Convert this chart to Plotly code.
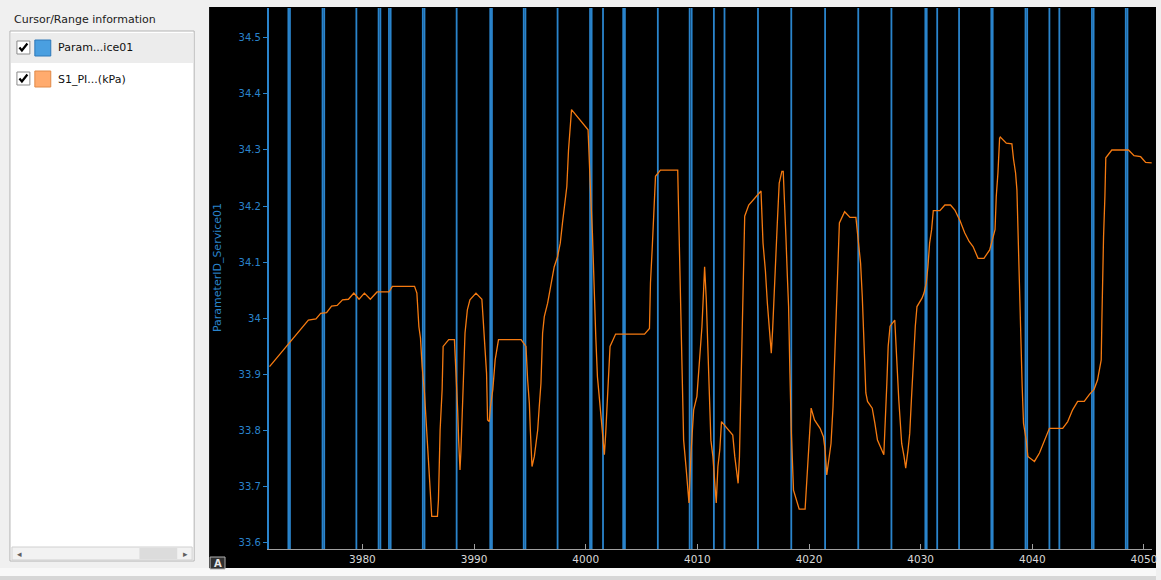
import plotly.graph_objects as go

# ---------------- data ----------------
orange_x = [3971.68, 3975.16, 3975.84, 3976.26, 3976.79, 3977.24, 3977.74, 3978.22, 3978.75, 3979.23,
            3979.70, 3980.18, 3980.71, 3981.31, 3982.38, 3982.68, 3984.67, 3984.88, 3985.06, 3985.20,
            3985.35, 3985.56, 3985.71, 3985.92, 3986.10, 3986.21, 3986.72, 3986.81, 3986.96, 3987.14,
            3987.23, 3987.73, 3988.24, 3988.32, 3988.44, 3988.53, 3988.62, 3988.74, 3988.83, 3988.98,
            3989.19, 3989.40, 3989.63, 3990.17, 3990.70, 3990.82, 3991.00, 3991.12, 3991.21, 3991.36,
            3991.47, 3991.68, 3991.89, 3992.07, 3992.19, 3994.21, 3994.65, 3994.80, 3994.95, 3995.04,
            3995.19, 3995.40, 3995.70, 3995.84, 3995.99, 3996.14, 3996.29, 3996.59, 3996.88, 3997.18,
            3997.48, 3997.72, 3997.92, 3998.13, 3998.31, 3998.46, 3998.61, 3998.73, 4000.21, 4000.30,
            4000.45, 4000.60, 4000.69, 4000.75, 4000.90, 4001.05, 4001.23, 4001.40, 4001.58, 4001.67,
            4001.79, 4002.00, 4002.18, 4002.68, 4005.27, 4005.71, 4005.80, 4005.95, 4006.10, 4006.25,
            4006.69, 4008.24, 4008.33, 4008.42, 4008.54, 4008.63, 4008.77, 4008.98, 4009.16, 4009.25,
            4009.43, 4009.67, 4009.96, 4010.20, 4010.41, 4010.56, 4010.65, 4010.80, 4010.92, 4011.06,
            4011.21, 4011.39, 4011.57, 4011.69, 4011.84, 4012.01, 4012.16, 4012.67, 4013.17, 4013.35,
            4013.56, 4013.65, 4013.77, 4013.86, 4013.95, 4014.07, 4014.15, 4014.24, 4014.60, 4015.34,
            4015.70, 4015.88, 4016.09, 4016.27, 4016.47, 4016.62, 4016.74, 4016.89, 4017.04, 4017.16,
            4017.33, 4017.57, 4017.69, 4017.81, 4017.93, 4018.05, 4018.17, 4018.29, 4018.41, 4018.61,
            4018.91, 4019.12, 4019.65, 4019.74, 4019.86, 4020.01, 4020.19, 4020.49, 4020.99, 4021.29,
            4021.44, 4021.59, 4021.73, 4021.97, 4022.15, 4022.27, 4022.39, 4022.51, 4022.63, 4022.72,
            4023.19, 4023.67, 4024.20, 4024.41, 4024.62, 4024.77, 4024.92, 4025.09, 4025.24, 4025.66,
            4025.90, 4026.13, 4026.70, 4026.79, 4026.97, 4027.09, 4027.26, 4027.68, 4027.77, 4027.92,
            4028.04, 4028.15, 4028.30, 4028.51, 4028.66, 4028.87, 4029.02, 4029.17, 4029.40, 4029.52,
            4029.67, 4030.12, 4030.30, 4030.50, 4030.65, 4030.80, 4030.98, 4031.13, 4031.72, 4032.17,
            4032.67, 4033.06, 4033.50, 4033.95, 4034.34, 4034.69, 4035.14, 4035.67, 4036.18, 4036.48,
            4036.66, 4036.77, 4036.92, 4037.07, 4037.13, 4037.67, 4038.17, 4038.32, 4038.50, 4038.62,
            4038.74, 4038.86, 4038.97, 4039.09, 4039.21, 4039.45, 4039.60, 4040.19, 4040.64, 4041.08,
            4041.53, 4042.12, 4042.72, 4043.17, 4043.61, 4044.06, 4044.65, 4045.10, 4045.54, 4045.84,
            4046.05, 4046.17, 4046.23, 4046.29, 4046.38, 4046.50, 4046.58, 4047.12, 4048.61, 4049.11,
            4049.70, 4050.15, 4050.69]
orange_y = [33.914, 33.997, 33.999, 34.009, 34.010, 34.022, 34.023, 34.033, 34.034, 34.045,
            34.034, 34.045, 34.034, 34.047, 34.047, 34.057, 34.057, 34.045, 33.985, 33.965,
            33.914, 33.867, 33.816, 33.742, 33.665, 33.647, 33.647, 33.676, 33.801, 33.873,
            33.950, 33.962, 33.962, 33.932, 33.885, 33.837, 33.783, 33.730, 33.766, 33.855,
            33.974, 34.015, 34.033, 34.045, 34.034, 33.997, 33.950, 33.902, 33.819, 33.816,
            33.843, 33.873, 33.926, 33.944, 33.962, 33.962, 33.950, 33.890, 33.849, 33.801,
            33.736, 33.754, 33.801, 33.843, 33.884, 33.974, 34.003, 34.027, 34.063, 34.092,
            34.110, 34.134, 34.170, 34.205, 34.235, 34.300, 34.348, 34.372, 34.336, 34.277,
            34.217, 34.152, 34.092, 34.033, 33.968, 33.896, 33.861, 33.819, 33.778, 33.757,
            33.795, 33.873, 33.950, 33.972, 33.972, 33.982, 34.063, 34.122, 34.182, 34.253,
            34.264, 34.264, 34.182, 34.086, 33.979, 33.884, 33.783, 33.736, 33.694, 33.671,
            33.760, 33.837, 33.861, 33.920, 33.985, 34.051, 34.092, 34.033, 33.968, 33.873,
            33.783, 33.754, 33.694, 33.671, 33.736, 33.766, 33.816, 33.804, 33.792, 33.754,
            33.724, 33.706, 33.754, 33.849, 33.938, 34.033, 34.128, 34.182, 34.202, 34.220,
            34.227, 34.134, 34.086, 34.027, 33.979, 33.938, 33.979, 34.039, 34.098, 34.170,
            34.241, 34.262, 34.262, 34.211, 34.146, 34.080, 34.021, 33.902, 33.801, 33.694,
            33.676, 33.660, 33.660, 33.694, 33.736, 33.772, 33.840, 33.819, 33.804, 33.789,
            33.766, 33.721, 33.742, 33.777, 33.843, 33.920, 33.997, 34.075, 34.128, 34.170,
            34.190, 34.180, 34.180, 34.140, 34.098, 34.039, 33.950, 33.867, 33.852, 33.840,
            33.813, 33.783, 33.757, 33.813, 33.884, 33.950, 33.986, 33.997, 33.950, 33.902,
            33.855, 33.813, 33.777, 33.754, 33.733, 33.766, 33.795, 33.855, 33.944, 33.986,
            34.021, 34.036, 34.045, 34.063, 34.092, 34.134, 34.158, 34.192, 34.192, 34.202,
            34.202, 34.193, 34.175, 34.152, 34.137, 34.128, 34.107, 34.107, 34.122, 34.146,
            34.158, 34.217, 34.259, 34.321, 34.323, 34.312, 34.311, 34.283, 34.259, 34.229,
            34.128, 34.051, 33.962, 33.879, 33.813, 33.783, 33.754, 33.745, 33.760, 33.781,
            33.804, 33.804, 33.804, 33.816, 33.837, 33.852, 33.852, 33.864, 33.874, 33.890,
            33.914, 33.926, 33.997, 34.069, 34.146, 34.217, 34.286, 34.300, 34.300, 34.290,
            34.288, 34.278, 34.277]

# transition times of the blue (ParameterID_Service01) signal
blue_x = [3973.37, 3973.51, 3976.43, 3976.58, 3979.46, 3981.45, 3981.61, 3982.38, 3982.53,
          3985.41, 3985.56, 3988.44, 3991.45, 3991.60, 3994.45, 3994.60, 3997.48, 4000.39,
          4000.53, 4001.55, 4003.36, 4003.51, 4006.46, 4009.31, 4009.49, 4011.48, 4012.43,
          4015.43, 4018.41, 4021.44, 4024.41, 4027.38, 4030.42, 4030.54, 4031.48, 4033.44,
          4036.33, 4036.45, 4039.39, 4039.54, 4041.53, 4042.42, 4045.34, 4045.49, 4048.37,
          4048.52]

x_ticks = [3980, 3990, 4000, 4010, 4020, 4030, 4040, 4050]
y_ticks = [33.6, 33.7, 33.8, 33.9, 34.0, 34.1, 34.2, 34.3, 34.4, 34.5]
y_tick_text = ["33.6", "33.7", "33.8", "33.9", "34", "34.1", "34.2", "34.3", "34.4", "34.5"]

x_range = [3971.62, 4050.72]
y_range = [33.589, 34.553]

y_title = "ParameterID_Service01"
panel_title = "Cursor/Range information"
legend_names = ["Param...ice01", "S1_PI...(kPa)"]

# ---------------- figure ----------------
W, H = 1161, 580
def px(x): return x / W
def py(y): return 1 - y / H

BLUE = "#2a84cc"
ORANGE = "#f57a10"

bx, by = [], []
for t in blue_x:
    bx += [t, t, None]
    by += [y_range[0], y_range[1], None]

fig = go.Figure()
fig.add_trace(go.Scatter(x=bx, y=by, mode="lines", line=dict(color=BLUE, width=1.8),
                         hoverinfo="skip", showlegend=False))
fig.add_trace(go.Scatter(x=orange_x, y=orange_y, mode="lines",
                         line=dict(color=ORANGE, width=1.3), showlegend=False))

shapes = []
def rect(x0, y0, x1, y1, fill, line=None, lw=1, layer="below"):
    shapes.append(dict(type="rect", xref="paper", yref="paper", x0=px(x0), x1=px(x1),
                       y0=py(y1), y1=py(y0), fillcolor=fill,
                       line=dict(color=line if line else fill, width=lw if line else 0),
                       layer=layer))

def check(x0, y0):
    pts = [(x0 + 2.5, y0 + 6.5), (x0 + 5, y0 + 9.5), (x0 + 10.5, y0 + 2.5)]
    path = "M " + " L ".join(f"{px(a):.5f},{py(b):.5f}" for a, b in pts)
    shapes.append(dict(type="path", xref="paper", yref="paper", path=path,
                       line=dict(color="#000000", width=2.2), layer="above"))

# bottom strip
rect(0, 568, 1161, 580, "#f8f8f8")
rect(0, 576, 1161, 580, "#d6d6d6")
# black chart panel
rect(210, 7, 1161, 568, "#000000")
# left list box
rect(10, 31, 195, 561, "#ffffff", "#b4b4b4", 1)
rect(11, 33, 194, 63, "#ececec")
# checkboxes
rect(17, 41, 30, 54, "#ffffff", "#8c8c8c", 1)
rect(17, 72, 30, 85, "#ffffff", "#8c8c8c", 1)
check(17, 41)
check(17, 72)
# colour squares
shapes.append(dict(type="rect", xref="paper", yref="paper", x0=px(35), x1=px(51), y0=py(56), y1=py(40),
                   fillcolor="#4a9fe0", line=dict(color="#2e78b8", width=1), layer="below"))
shapes.append(dict(type="rect", xref="paper", yref="paper", x0=px(35), x1=px(51), y0=py(87), y1=py(71),
                   fillcolor="#ffab6e", line=dict(color="#e08a48", width=1), layer="below"))
# scrollbar
rect(12, 547, 193, 560, "#f2f2f2", "#d0d0d0", 1)
rect(140, 548, 178, 559, "#dcdcdc")
# "A" icon
rect(211, 557, 226, 569, "#303030", "#b0b0b0", 1, layer="above")

def ann(text, x, y, size, color, xanchor="center", **kw):
    return dict(text=text, x=px(x), y=py(y), xref="paper", yref="paper", xanchor=xanchor,
                yanchor="middle", showarrow=False,
                font=dict(family="DejaVu Sans", size=size, color=color), **kw)

annotations = [
    ann(panel_title, 12, 20, 11, "#202020", xanchor="left"),
    ann(legend_names[0], 56, 48, 11, "#101010", xanchor="left"),
    ann(legend_names[1], 56, 79, 11, "#101010", xanchor="left"),
    ann("◂", 20, 553.5, 9, "#606060"),
    ann("▸", 186, 553.5, 9, "#606060"),
    ann("<b>A</b>", 218.5, 563, 10, "#e8e8e8"),
    ann(y_title, 218, 268, 11, BLUE, textangle=-90),
]

fig.update_layout(
    width=W, height=H,
    margin=dict(l=0, r=0, t=0, b=0),
    paper_bgcolor="#f0f0f0",
    plot_bgcolor="#000000",
    shapes=shapes,
    annotations=annotations,
    showlegend=False,
    xaxis=dict(domain=[px(270), px(1157)], range=x_range, tickvals=x_ticks,
               ticks="inside", ticklen=5, tickcolor="#a0a0a0", showgrid=False, zeroline=False,
               showline=True, linecolor="#a0a0a0", linewidth=1, ticklabeloverflow="allow",
               tickfont=dict(family="DejaVu Sans", size=10.5, color="#d8d8d8"), anchor="y"),
    yaxis=dict(domain=[py(549), py(8)], range=y_range, tickvals=y_ticks, ticktext=y_tick_text,
               ticks="outside", ticklen=4, tickcolor=BLUE, showgrid=False, zeroline=False,
               showline=True, linecolor=BLUE, linewidth=2,
               tickfont=dict(family="DejaVu Sans", size=10, color=BLUE), anchor="x"),
)

fig.write_html("out.html", config={"displayModeBar": False},
               post_script="document.body.style.margin='0';document.body.style.overflow='hidden';")
